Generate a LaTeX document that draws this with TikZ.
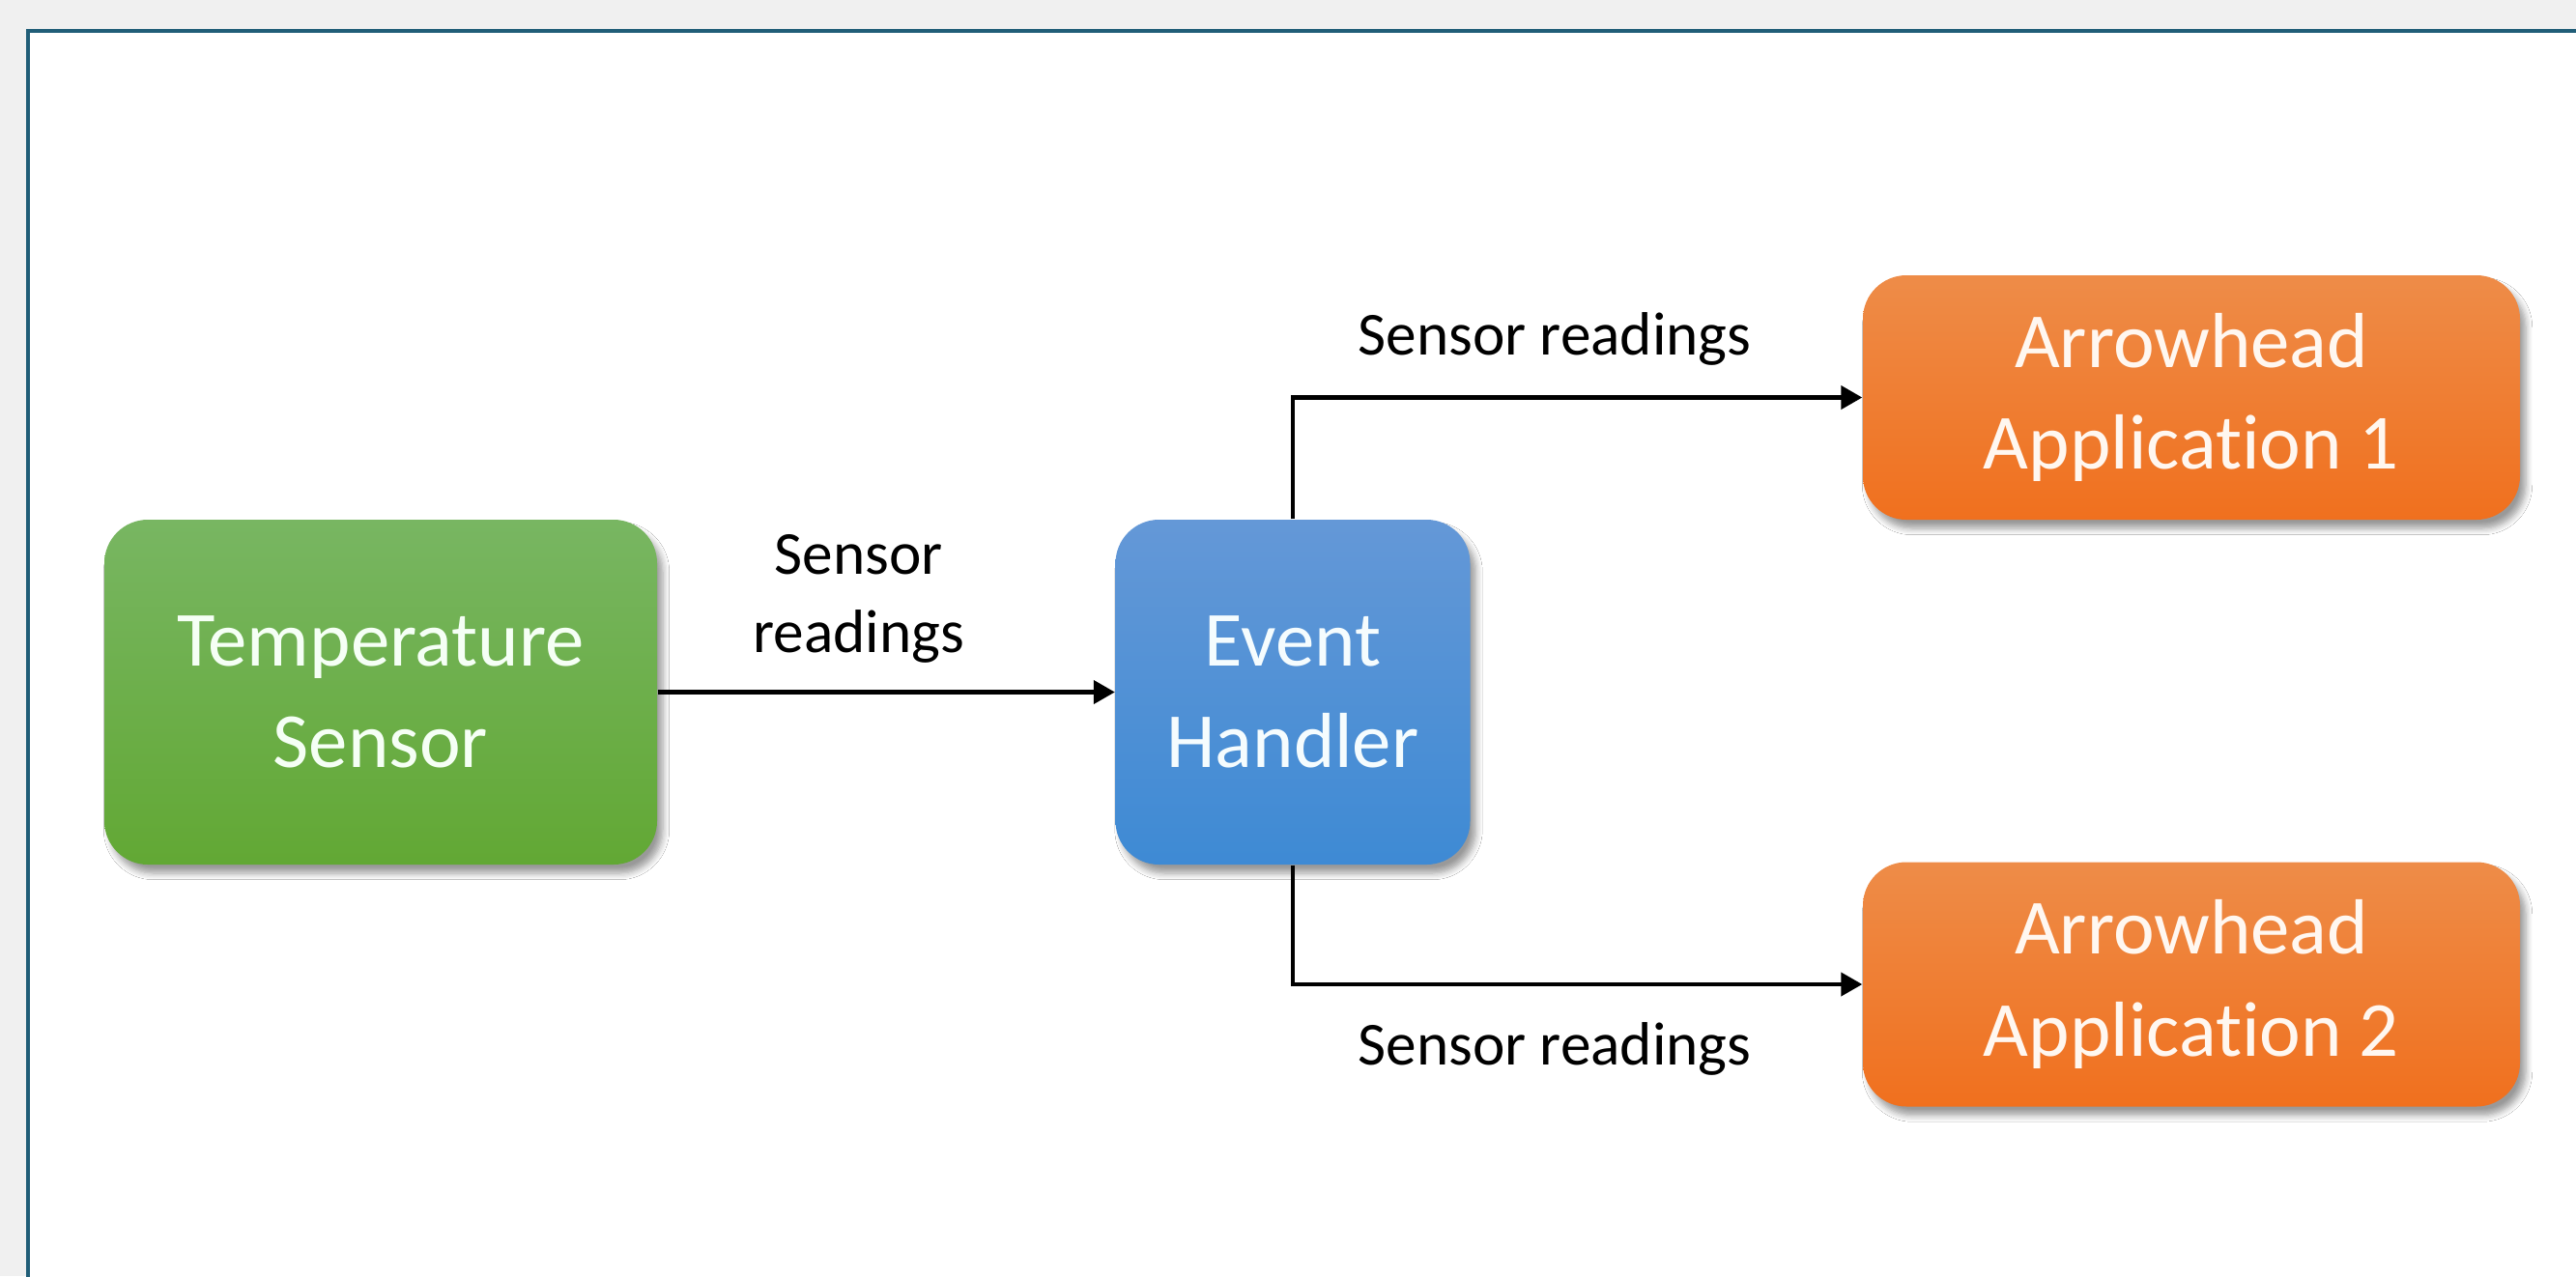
\documentclass[tikz,border=0pt]{standalone}
\usepackage{fontspec}
\setmainfont[Ligatures=NoCommon]{Carlito}
\usetikzlibrary{arrows.meta,positioning,shadows.blur}

\definecolor{pagegray}{RGB}{240,240,240}
\definecolor{frameline}{RGB}{33,94,120}
\definecolor{greentop}{RGB}{120,182,98}
\definecolor{greenbot}{RGB}{98,168,52}
\definecolor{bluetop}{RGB}{100,152,215}
\definecolor{bluebot}{RGB}{62,138,212}
\definecolor{orangetop}{RGB}{238,140,72}
\definecolor{orangebot}{RGB}{240,112,30}

\tikzset{
	box/.style={rounded corners=0.45cm, inner sep=0pt, minimum height=3.57cm, align=center,
		font=\fontsize{23}{30}\selectfont,
		blur shadow={shadow xshift=0.6mm, shadow yshift=-0.9mm, shadow blur steps=6, shadow opacity=40}},
	sensorbox/.style={box, top color=greentop, bottom color=greenbot, text=green!4!white},
	handlerbox/.style={box, top color=bluetop, bottom color=bluebot, text=cyan!4!white},
	appbox/.style={box, top color=orangetop, bottom color=orangebot, text=orange!6!white, minimum width=6.8cm, minimum height=2.53cm},
	flow/.style={line width=1.2pt, -{Triangle[length=0.22cm, width=0.24cm]}},
	lbl/.style={font=\fontsize{18}{23}\selectfont, align=center, inner sep=0pt}
}

\begin{document}
\begin{tikzpicture}
		\useasboundingbox (0,0) rectangle (26.66,-13.21);
		\fill [pagegray] (0,0) rectangle (26.66,-13.21);
		\filldraw [fill=white, draw=frameline, line width=1.1pt] (0.29,-0.32) rectangle (27.2,-13.8);

		\node [sensorbox, minimum width=5.72cm](temp_sensor) at (3.94,-7.165) {Temperature\\Sensor};
		\node [handlerbox, minimum width=3.67cm](handler) at (13.38,-7.165) {Event\\Handler};
		\node [appbox](app1) at (22.68,-4.115) {Arrowhead\\Application 1};
		\node [appbox](app2) at (22.68,-10.19) {Arrowhead\\Application 2};

		\draw [flow] (temp_sensor) -- node [lbl, above=0.28cm, pos=0.44] {Sensor\\readings} (handler);
		\draw [flow] (handler.north) |- node [lbl, above=0.31cm, pos=0.73] {Sensor readings} (app1.west);
		\draw [flow] (handler.south) |- node [lbl, below=0.37cm, pos=0.73] {Sensor readings} (app2.west);
\end{tikzpicture}
\end{document}
